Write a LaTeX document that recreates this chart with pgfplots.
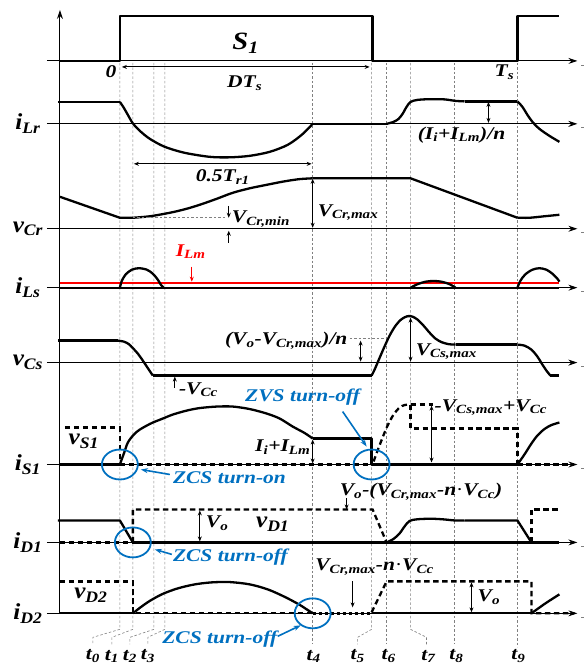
\documentclass[border=0pt]{standalone}
\usepackage{fontspec}
\setmainfont{Liberation Serif}
\usepackage{graphicx}
\usepackage{pgfplots}
\pgfplotsset{compat=1.18}
\usetikzlibrary{arrows.meta}
\definecolor{zblue}{RGB}{0,112,192}
\newcommand{\lab}[2]{\scalebox{1.1}[1]{\fontsize{23}{23}\selectfont\bfseries\itshape #1\textsubscript{#2}}}
\newcommand{\ann}[1]{\scalebox{1.2}[1]{\fontsize{18}{18}\selectfont\bfseries\itshape #1}}
\newcommand{\sub}[1]{\textsubscript{#1}}
\begin{document}
\begin{tikzpicture}
\begin{axis}[
  scale only axis, width=586bp, height=666bp,
  xmin=0, xmax=586, ymin=0, ymax=666, y dir=reverse,
  hide axis, clip=false,
  wave/.style={black, line width=2.3bp, line join=round, mark=none},
  swave/.style={black, line width=2.3bp, smooth, mark=none},
  dwave/.style={black, line width=2.3bp, dash pattern=on 5.5bp off 3.5bp, mark=none},
  sdwave/.style={black, line width=2.3bp, dash pattern=on 5.5bp off 3.5bp, smooth, mark=none},
  grd/.style={gray, line width=0.6bp, dash pattern=on 2.5bp off 2bp, mark=none},
  axl/.style={black, line width=0.9bp, -{Stealth[length=9bp,width=6bp]}, mark=none},
  dbl/.style={black, line width=0.9bp, {Stealth[length=5bp,width=4bp]}-{Stealth[length=5bp,width=4bp]}, mark=none},
  one/.style={black, line width=0.9bp, -{Stealth[length=5bp,width=4bp]}, mark=none},
  bl/.style={zblue, line width=1.6bp, -{Stealth[length=7bp,width=5bp]}, mark=none},
]
\addplot[draw=none, mark=none] coordinates {(0,0) (586,666)};
% grid lines
\addplot[grd] coordinates {(120,63) (120,630) (93,638) (93,645)};
\addplot[grd] coordinates {(133,63) (133,630) (112,638) (112,645)};
\addplot[grd] coordinates {(154,63) (154,630) (130,638) (130,645)};
\addplot[grd] coordinates {(165,63) (165,630) (148,638) (148,645)};
\addplot[grd] coordinates {(313,63) (313,645)};
\addplot[grd] coordinates {(372,63) (372,630) (358,638) (358,645)};
\addplot[grd] coordinates {(387,63) (387,645)};
\addplot[grd] coordinates {(411,63) (411,630) (427,638) (427,645)};
\addplot[grd] coordinates {(455,63) (455,645)};
\addplot[grd] coordinates {(518,63) (518,648)};
% axes
\addplot[axl] coordinates {(60,614) (60,10)};
\addplot[axl] coordinates {(47,61) (578,61)};
\addplot[axl] coordinates {(47,124) (578,124)};
\addplot[axl] coordinates {(47,229) (578,229)};
\addplot[axl] coordinates {(47,288) (578,288)};
\addplot[axl] coordinates {(47,363) (578,363)};
\addplot[axl] coordinates {(47,465) (578,465)};
\addplot[axl] coordinates {(47,543) (578,543)};
\addplot[axl] coordinates {(47,614) (578,614)};
% right marks
\addplot[gray, line width=1bp, mark=none] coordinates {(582,66) (585,66)};
\addplot[gray, line width=1bp, mark=none] coordinates {(582,128) (585,128)};
\addplot[gray, line width=1bp, mark=none] coordinates {(582,233) (585,233)};
\addplot[gray, line width=1bp, mark=none] coordinates {(582,292) (585,292)};
\addplot[gray, line width=1bp, mark=none] coordinates {(582,367) (585,367)};
\addplot[gray, line width=1bp, mark=none] coordinates {(582,469) (585,469)};
\addplot[gray, line width=1bp, mark=none] coordinates {(582,547) (585,547)};
\addplot[gray, line width=1bp, mark=none] coordinates {(582,618) (585,618)};
% S1
\addplot[wave] coordinates {(60,61) (120,61) (120,16) (373,16) (373,61) (518,61) (518,16) (560,16)};
% iLr
\addplot[wave] coordinates {(58,102) (120,102)};
\addplot[swave] coordinates {(120,102) (124,108) (128,115) (133,123.5) (140,131) (150,139) (165,147) (185,153) (210,157) (230,157.5) (250,156) (270,152) (288,145) (302,135) (313,124)};
\addplot[wave] coordinates {(313,124) (387,124)};
\addplot[swave] coordinates {(387,124) (394,122) (399,119) (403,114) (407,107) (411,102) (418,100) (430,99.3) (445,99.5) (456,101) (465,101.5)};
\addplot[wave] coordinates {(465,101.5) (518,101.5)};
\addplot[swave] coordinates {(518,101.5) (523,107) (528,115) (533,122) (540,129) (550,136) (560,142)};
% vCr
\addplot[wave] coordinates {(60,197) (120,218) (133,218)};
\addplot[swave] coordinates {(133,218) (150,216.5) (170,213) (185,209.5) (200,205) (217,199) (233,193) (250,188.5) (267,185) (285,181.5) (300,179.3) (313,178.5)};
\addplot[wave] coordinates {(313,178.5) (411,178.5) (518,218)};
\addplot[swave] coordinates {(518,218) (530,218) (545,216.5) (560,215)};
% iLs
\addplot[wave] coordinates {(60,288) (560,288)};
\addplot[red, line width=1.5bp, mark=none] coordinates {(60,283.5) (560,283.5)};
\addplot[swave] coordinates {(120,288) (122,281) (126,274.5) (132,270) (139,268.5) (147,270) (153,274) (158,280) (161,285) (164,288)};
\addplot[swave] coordinates {(411,288) (418,284.5) (426,282) (434,281.3) (442,282) (450,284.5) (456,288)};
\addplot[swave] coordinates {(518,288) (521,281) (526,274.5) (533,270) (540,268.5) (547,270) (553,274) (558,279) (560,282)};
% vCs
\addplot[wave] coordinates {(58,341) (118,341)};
\addplot[swave] coordinates {(118,341) (124,342) (129,344.5) (133,348.5) (138,354) (143,361) (148,368.5) (153,376)};
\addplot[wave] coordinates {(153,376) (372,376)};
\addplot[swave] coordinates {(372,376) (375,370) (378,363) (384,349) (390,336) (396,326) (402,319.5) (408,316.5) (413,317) (418,320) (424,326) (430,333) (436,339) (442,342.5) (449,344.5) (456,345)};
\addplot[wave] coordinates {(456,345) (518,345)};
\addplot[swave] coordinates {(518,345) (525,346) (532,350) (538,357) (543,365) (547,371) (551,376)};
\addplot[wave] coordinates {(551,376) (560,376)};
% iS1 and vS1
\addplot[wave] coordinates {(60,465) (120,465)};
\addplot[swave] coordinates {(120,465) (124,454) (128,443) (134,435) (140,430) (147,426) (153,423) (163,419) (173,415) (187,411) (200,408.5) (217,407) (233,407) (250,409.5) (267,414) (280,419) (293,427) (305,433.5) (313,439)};
\addplot[wave] coordinates {(313,439) (372,439) (372,465) (518,465)};
\addplot[swave] coordinates {(518,465) (525,455) (532,444) (538,436) (545,429.5) (552,425.5) (560,423)};
\addplot[dwave] coordinates {(120,465) (372,465)};
\addplot[dwave] coordinates {(518,465) (575,465)};
\addplot[dwave] coordinates {(65,428) (120,428) (120,463)};
\addplot[sdwave] coordinates {(374,462) (378,451) (383,438) (388,426) (394,415) (400,408) (405,405.5) (411,405)};
\addplot[dwave] coordinates {(411,405) (411,429) (518,429) (518,463)};
\addplot[dwave] coordinates {(411,405) (433,405)};
% iD1 and vD1
\addplot[wave] coordinates {(58,521) (120,521) (133,543)};
\addplot[wave] coordinates {(133,543) (560,543)};
\addplot[swave] coordinates {(387,543) (394,539.5) (400,534) (405,527) (410,521.5) (418,519.8) (432,519.3) (445,520) (455,521) (465,521)};
\addplot[wave] coordinates {(465,521) (518,521) (532,543)};
\addplot[dwave] coordinates {(60,543) (133,543)};
\addplot[dwave] coordinates {(133,543) (133,510) (373,510) (387,543)};
\addplot[dwave] coordinates {(532,543) (532,510) (560,510)};
% iD2 and vD2
\addplot[wave] coordinates {(60,614) (133,614)};
\addplot[swave] coordinates {(133,614) (140,608.5) (150,601.5) (163,594.5) (178,589) (195,585) (212,583) (230,582.7) (250,585) (268,590) (285,597.5) (300,605.5) (313,614)};
\addplot[wave] coordinates {(372,614) (532,614)};
\addplot[swave] coordinates {(532,614) (546,604) (560,595)};
\addplot[dwave] coordinates {(60,582) (133,582) (133,614) (313,614)};
\addplot[black, line width=3.4bp, dash pattern=on 3bp off 3bp, mark=none] coordinates {(313,614) (372,614)};
\addplot[dwave] coordinates {(372,613) (387,582) (532,582) (532,614) (575,614)};
% annotation arrows
\addplot[dbl] coordinates {(122,67) (370,67)};
\addplot[dbl] coordinates {(134,164) (312,164)};
\addplot[dbl] coordinates {(489,102) (489,123)};
\addplot[grd] coordinates {(133,218) (227,218)};
\addplot[one] coordinates {(229,206) (229,218)};
\addplot[one] coordinates {(229,243) (229,231)};
\addplot[dbl] coordinates {(313,179) (313,228)};
\addplot[red, line width=0.9bp, -{Stealth[length=5bp,width=4bp]}, mark=none] coordinates {(192,267) (192,282)};
\addplot[grd] coordinates {(350,339) (386,339)};
\addplot[dbl] coordinates {(361,341) (361,362)};
\addplot[dbl] coordinates {(411,318) (411,362)};
\addplot[one] coordinates {(175,388) (175,377)};
\addplot[dbl] coordinates {(432,406) (432,463)};
\addplot[dbl] coordinates {(313,440) (313,464)};
\addplot[one] coordinates {(347,499) (347,510)};
\addplot[dbl] coordinates {(200,511) (200,542)};
\addplot[one] coordinates {(353,582) (353,608)};
\addplot[dbl] coordinates {(472,583) (472,613)};
% blue arrows
\addplot[bl] coordinates {(170,475) (141,470)};
\addplot[bl] coordinates {(343,412) (367,447)};
\addplot[bl] coordinates {(172,555) (155,550)};
\addplot[bl] coordinates {(278,637) (301,626)};
% circles
\draw[zblue, line width=1.8bp] (axis cs:120,465) ellipse [x radius=18bp, y radius=15bp];
\draw[zblue, line width=1.8bp] (axis cs:372,465) ellipse [x radius=18bp, y radius=15bp];
\draw[zblue, line width=1.8bp] (axis cs:133,543) ellipse [x radius=18bp, y radius=15bp];
\draw[zblue, line width=1.8bp] (axis cs:313,614) ellipse [x radius=18bp, y radius=15bp];
% left labels
\node at (axis cs:28,124) {\lab{i}{Lr}};
\node at (axis cs:28,229) {\lab{v}{Cr}};
\node at (axis cs:28,288) {\lab{i}{Ls}};
\node at (axis cs:28,363) {\lab{v}{Cs}};
\node at (axis cs:28,465) {\lab{i}{S1}};
\node at (axis cs:28,543) {\lab{i}{D1}};
\node at (axis cs:28,614) {\lab{i}{D2}};
% texts
\node at (axis cs:246,43) {\scalebox{1.15}[1]{\fontsize{25}{25}\selectfont\bfseries\itshape S\textsubscript{1}}};
\node at (axis cs:111,72) {\ann{0}};
\node at (axis cs:245,83) {\ann{DT\sub{s}}};
\node at (axis cs:505,72) {\ann{T\sub{s}}};
\node at (axis cs:462,135) {\ann{(I\sub{i}+I\sub{Lm})/n}};
\node at (axis cs:223,177) {\ann{0.5T\sub{r1}}};
\node[anchor=west, inner sep=1bp] at (axis cs:231,219) {\ann{V\sub{Cr,min}}};
\node[anchor=west, inner sep=1bp] at (axis cs:317,213) {\ann{V\sub{Cr,max}}};
\node[red] at (axis cs:191,252) {\ann{I\sub{Lm}}};
\node[anchor=east, inner sep=1bp] at (axis cs:349,341) {\ann{(V\sub{o}-V\sub{Cr,max})/n}};
\node[anchor=west, inner sep=1bp] at (axis cs:415,352) {\ann{V\sub{Cs,max}}};
\node[anchor=west, inner sep=1bp] at (axis cs:178,390) {\ann{-V\sub{Cc}}};
\node[zblue] at (axis cs:303,398) {\ann{ZVS turn-off}};
\node[anchor=west, inner sep=1bp] at (axis cs:434,408) {\ann{-V\sub{Cs,max}+V\sub{Cc}}};
\node[anchor=east, inner sep=1bp] at (axis cs:312,448) {\ann{I\sub{i}+I\sub{Lm}}};
\node at (axis cs:84,442) {\lab{v}{S1}};
\node[zblue, anchor=west, inner sep=1bp] at (axis cs:172,478) {\ann{ZCS turn-on}};
\node[anchor=west, inner sep=1bp] at (axis cs:339,492) {\ann{V\sub{o}-(V\sub{Cr,max}-n{\mdseries\upshape ·}V\sub{Cc})}};
\node[anchor=west, inner sep=1bp] at (axis cs:205,524) {\ann{V\sub{o}}};
\node at (axis cs:273,525) {\lab{v}{D1}};
\node[zblue, anchor=west, inner sep=1bp] at (axis cs:172,558) {\ann{ZCS turn-off}};
\node at (axis cs:375,568) {\ann{V\sub{Cr,max}-n{\mdseries\upshape ·}V\sub{Cc}}};
\node at (axis cs:91,596) {\lab{v}{D2}};
\node[anchor=west, inner sep=1bp] at (axis cs:477,598) {\ann{V\sub{o}}};
\node[zblue] at (axis cs:220,640) {\ann{ZCS turn-off}};
% time labels
\node at (axis cs:93,657) {\ann{t\sub{0}}};
\node at (axis cs:112,657) {\ann{t\sub{1}}};
\node at (axis cs:130,657) {\ann{t\sub{2}}};
\node at (axis cs:148,657) {\ann{t\sub{3}}};
\node at (axis cs:314,657) {\ann{t\sub{4}}};
\node at (axis cs:358,657) {\ann{t\sub{5}}};
\node at (axis cs:389,657) {\ann{t\sub{6}}};
\node at (axis cs:429,657) {\ann{t\sub{7}}};
\node at (axis cs:457,657) {\ann{t\sub{8}}};
\node at (axis cs:519,657) {\ann{t\sub{9}}};
\end{axis}
\end{tikzpicture}
\end{document}
